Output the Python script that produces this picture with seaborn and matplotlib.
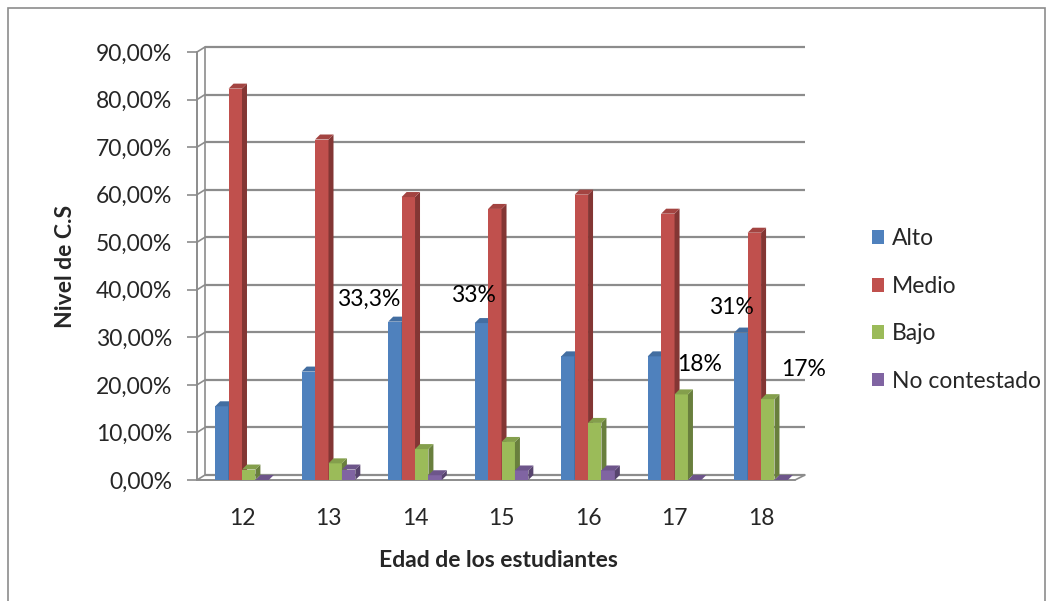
import numpy as np
import pandas as pd
import seaborn as sns
import matplotlib
matplotlib.use("Agg")
import matplotlib.pyplot as plt
from matplotlib.patches import Polygon, Rectangle
from matplotlib.ticker import FuncFormatter, MultipleLocator

# ---- data -------------------------------------------------------------
edades = ["12", "13", "14", "15", "16", "17", "18"]
niveles = ["Alto", "Medio", "Bajo", "No contestado"]
alto = [0.155, 0.228, 0.333, 0.33, 0.26, 0.26, 0.31]
medio = [0.823, 0.716, 0.595, 0.57, 0.60, 0.56, 0.52]
bajo = [0.022, 0.035, 0.065, 0.08, 0.12, 0.18, 0.17]
no_contestado = [0.0, 0.022, 0.01, 0.02, 0.02, 0.0, 0.0]
colores = ["#4F81BD", "#C0504D", "#9BBB59", "#8064A2"]

# labelled bars: (serie, edad, texto, offset en px)
etiquetas = [
    ("Alto", "14", "33,3%", (-26, 22)),
    ("Alto", "15", "33%", (-8, 28)),
    ("Alto", "18", "31%", (-10, 25)),
    ("Bajo", "17", "18%", (18, 30)),
    ("Bajo", "18", "17%", (36, 30)),
]

series = {"Alto": alto, "Medio": medio, "Bajo": bajo, "No contestado": no_contestado}
df = pd.DataFrame(
    [(e, n, series[n][i]) for n in niveles for i, e in enumerate(edades)],
    columns=["Edad", "Nivel", "Valor"],
)

# ---- figure -----------------------------------------------------------
sns.set_theme(style="white")
plt.rcParams["font.family"] = ["Lato", "DejaVu Sans"]

FS = 16.5
W, H = 1053, 601
fig = plt.figure(figsize=(W / 100, H / 100), dpi=100)
fig.patch.set_facecolor("white")

# outer chart frame
fig.patches.append(Rectangle((8 / W, -0.05), (1045 - 8) / W, 1.05 - 8 / H,
                             transform=fig.transFigure, fill=False,
                             edgecolor="#8c8c8c", linewidth=1.2))

left, right, top, bottom = 197, 800, 52, 480
ax = fig.add_axes([left / W, 1 - bottom / H, (right - left) / W, (bottom - top) / H])
ax.set_facecolor("none")

sns.barplot(data=df, x="Edad", y="Valor", hue="Nivel", hue_order=niveles,
            order=edades, palette=colores, saturation=1, width=0.62,
            ax=ax, legend=False, linewidth=0, zorder=3)

ax.set_ylim(0, 0.9)
ax.set_xlim(-0.52, 6.45)
ax.yaxis.set_major_locator(MultipleLocator(0.1))
ax.yaxis.set_major_formatter(FuncFormatter(lambda v, p: f"{v*100:.2f}%".replace(".", ",")))

# pixel -> data conversion for the 3D depth
fig.canvas.draw()
p0 = ax.transData.transform((0, 0))
p1 = ax.transData.transform((1, 0.1))
px_x = (p1[0] - p0[0])          # px per category unit
px_y = (p1[1] - p0[1]) / 0.1    # px per value unit
dx, dy = 5.0 / px_x, 5.0 / px_y
gdx = 8.0 / px_x                # depth of the back wall
x0lim, x1lim = ax.get_xlim()


def shade(c, f):
    r, g, b = matplotlib.colors.to_rgb(c)
    return (r * f, g * f, b * f)


# back wall gridlines and the side connectors
grid_col = "#8c8c8c"
for v in np.arange(0, 0.91, 0.1):
    ax.plot([x0lim + gdx, x1lim + dx], [v + dy, v + dy], color=grid_col,
            lw=1.6, zorder=0.5, clip_on=False, solid_capstyle="butt")
    ax.plot([x0lim, x0lim + gdx], [v, v + dy], color=grid_col, lw=1.2,
            zorder=0.5, clip_on=False)
ax.plot([x0lim + gdx, x0lim + gdx], [dy, 0.9 + dy], color=grid_col, lw=1.2,
        zorder=0.5, clip_on=False)
# floor
ax.plot([x0lim, x1lim - dx], [0, 0], color=grid_col, lw=1.4, zorder=0.6, clip_on=False)
ax.plot([x1lim - dx, x1lim + dx], [0, dy], color=grid_col, lw=1.2, zorder=0.6, clip_on=False)
ax.plot([x0lim, x0lim], [0, 0.9], color=grid_col, lw=1.4, zorder=0.6, clip_on=False)

# 3D faces on each bar: darker side and lighter top
bars = [p for p in ax.patches if isinstance(p, matplotlib.patches.Rectangle)]
bars_sorted = sorted(bars, key=lambda b: b.get_x())
z = 3
for b in bars_sorted:
    x, w, h = b.get_x(), b.get_width(), b.get_height()
    col = b.get_facecolor()
    b.set_zorder(z)
    side = Polygon([(x + w, 0), (x + w + dx, dy), (x + w + dx, h + dy), (x + w, h)],
                   closed=True, facecolor=shade(col, 0.68), edgecolor="none", zorder=z)
    topf = Polygon([(x, h), (x + dx, h + dy), (x + w + dx, h + dy), (x + w, h)],
                   closed=True, facecolor=shade(col, 0.85), edgecolor="none", zorder=z)
    ax.add_patch(side)
    ax.add_patch(topf)
    z += 0.01

# data labels
nivel_idx = {n: i for i, n in enumerate(niveles)}
for serie, edad, texto, (ox, oy) in etiquetas:
    i = edades.index(edad)
    val = series[serie][i]
    k = nivel_idx[serie]
    bw = 0.62 / len(niveles)
    xc = i - 0.31 + bw * (k + 0.5)
    ax.annotate(texto, xy=(xc, val), xytext=(ox, oy), textcoords="offset pixels",
                ha="center", va="center", fontsize=FS, color="black", zorder=10)

# axes styling
for s in ["top", "right", "bottom", "left"]:
    ax.spines[s].set_visible(False)
ax.tick_params(axis="y", which="major", length=7, width=1.2, color=grid_col,
               labelsize=FS, pad=11, left=True)
ax.tick_params(axis="x", length=0, labelsize=FS, pad=20)
ax.set_xlabel("Edad de los estudiantes", fontsize=FS, fontweight="bold", labelpad=15)
ax.set_ylabel("Nivel de C.S", fontsize=FS, fontweight="bold", labelpad=14)
ax.grid(False)

# legend
handles = [Rectangle((0, 0), 1, 1, facecolor=c, edgecolor="none") for c in colores]
fig.legend(handles, niveles, loc="center left", bbox_to_anchor=(851 / W, 1 - 310 / H),
           frameon=False, fontsize=FS, handlelength=0.55, handleheight=0.55,
           handletextpad=0.35, labelspacing=1.15)

fig.savefig("out.png", dpi=100, facecolor="white")
